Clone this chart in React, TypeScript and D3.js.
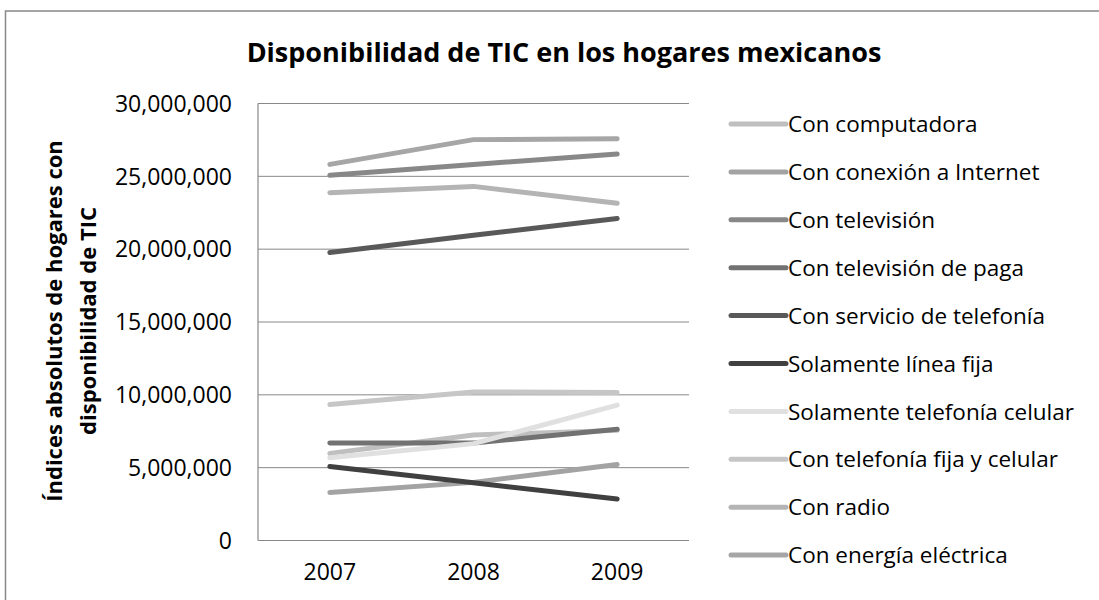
import React from "react";
import * as d3 from "d3";

const years = ["2007", "2008", "2009"];
const seriesNames = [
  "Con computadora",
  "Con conexión a Internet",
  "Con televisión",
  "Con televisión de paga",
  "Con servicio de telefonía",
  "Solamente línea fija",
  "Solamente telefonía celular",
  "Con telefonía fija y celular",
  "Con radio",
  "Con energía eléctrica",
];
const computadora = [5980000, 7240000, 7560000];
const internet = [3300000, 3990000, 5220000];
const television = [25070000, 25820000, 26530000];
const televisionPaga = [6690000, 6700000, 7630000];
const servicioTelefonia = [19770000, 20950000, 22100000];
const soloFija = [5080000, 3960000, 2850000];
const soloCelular = [5680000, 6650000, 9290000];
const fijaCelular = [9340000, 10200000, 10160000];
const radio = [23880000, 24310000, 23150000];
const energia = [25820000, 27520000, 27580000];
const seriesValues = [
  computadora, internet, television, televisionPaga, servicioTelefonia,
  soloFija, soloCelular, fijaCelular, radio, energia,
];
const seriesColors = [
  "#bfbfbf", "#a3a3a3", "#888888", "#727272", "#595959",
  "#404040", "#e0e0e0", "#c6c6c6", "#b4b4b4", "#a6a6a6",
];
const yTicks = [0, 5000000, 10000000, 15000000, 20000000, 25000000, 30000000];

const FONT = "'Open Sans', sans-serif";

export default function App() {
  const left = 258, right = 689, top = 103.5, bottom = 540.5;
  const x = d3.scaleBand<string>().domain(years).range([left, right]).padding(0);
  const y = d3.scaleLinear().domain([0, 30000000]).range([bottom, top]);
  const cx = (yr: string) => (x(yr) as number) + x.bandwidth() / 2;
  const line = d3
    .line<number>()
    .x((_, i) => cx(years[i]))
    .y((d) => y(d));
  const fmt = d3.format(",");
  const legendY0 = 124;
  const legendStep = 47.9;

  return (
    <svg
      width={1099}
      height={600}
      style={{ position: "absolute", left: 0, top: 0, background: "#fff" }}
      fontFamily={FONT}
    >
      <rect x={0} y={0} width={1099} height={600} fill="#fff" />
      <rect x={5.5} y={11} width={1110} height={620} fill="none" stroke="#888" strokeWidth={1.5} />
      <text x={564} y={62} textAnchor="middle" fontWeight="bold" fontSize={27} fill="#000">
        Disponibilidad de TIC en los hogares mexicanos
      </text>
      {yTicks.map((t) => (
        <g key={t}>
          {t > 0 && (
            <line x1={left} x2={right} y1={y(t)} y2={y(t)} stroke="#888" strokeWidth={1} />
          )}
          <text x={232} y={y(t)} dy="0.36em" textAnchor="end" fontSize={23} fill="#000">
            {fmt(t)}
          </text>
        </g>
      ))}
      <line x1={left} x2={left} y1={top} y2={bottom} stroke="#888" strokeWidth={1.2} />
      <line x1={left} x2={right} y1={bottom} y2={bottom} stroke="#888" strokeWidth={1.2} />
      {years.map((yr) => (
        <text key={yr} x={cx(yr)} y={580} textAnchor="middle" fontSize={23} fill="#000">
          {yr}
        </text>
      ))}
      <g transform="translate(0,321) rotate(-90)" fontWeight="bold" fontSize={22} fill="#000">
        <text x={0} y={62} textAnchor="middle">Índices absolutos de hogares con</text>
        <text x={0} y={96} textAnchor="middle">disponibilidad de TIC</text>
      </g>
      {seriesValues.map((vals, i) => (
        <path
          key={seriesNames[i]}
          d={line(vals) as string}
          fill="none"
          stroke={seriesColors[i]}
          strokeWidth={5}
          strokeLinecap="round"
          strokeLinejoin="round"
        />
      ))}
      {seriesNames.map((name, i) => {
        const ly = legendY0 + i * legendStep;
        return (
          <g key={name}>
            <line x1={731} x2={786} y1={ly} y2={ly} stroke={seriesColors[i]} strokeWidth={5} strokeLinecap="round" />
            <text x={788} y={ly} dy="0.36em" fontSize={22.5} fill="#000">
              {name}
            </text>
          </g>
        );
      })}
    </svg>
  );
}
